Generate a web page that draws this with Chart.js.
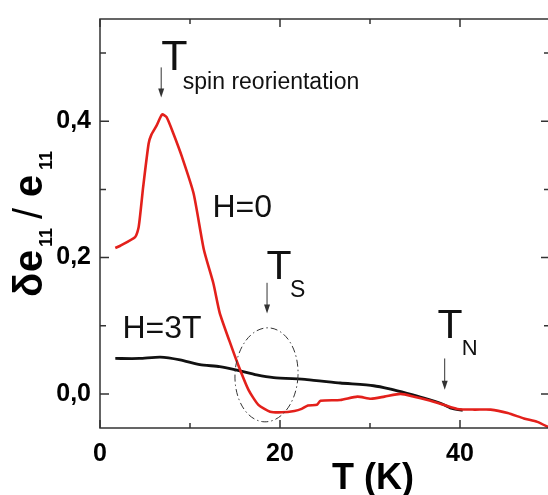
<!DOCTYPE html>
<html>
<head>
<meta charset="utf-8">
<script src="https://cdn.jsdelivr.net/npm/chart.js@4.4.1/dist/chart.umd.min.js"></script>
<style>
html, body { margin: 0; padding: 0; overflow: hidden; background: #fff; }
#wrap { width: 552px; height: 495px; }
</style>
</head>
<body>
<div id="wrap"><canvas id="myChart" width="552" height="495"></canvas></div>
<script>
// H=0 curve (red)
const redT = [1.7, 2.2, 3.9, 4.3, 4.8, 5.4, 5.7, 6.3, 6.9, 7.4, 8.15, 9.1, 10.4, 11.55, 12.6, 13.3, 14.4, 15.4, 16.5, 17.6, 18.9,
              20.2, 21.6, 22.4, 23.1, 24.1, 24.5, 26.7, 28.6, 30.1, 31.6, 33.4, 34.9, 36.4, 38.2, 39.7, 41.6, 43.4, 45.3, 47.1, 48.6, 50];
const redV = [0.214, 0.217, 0.230, 0.245, 0.304, 0.367, 0.380, 0.394, 0.410, 0.406, 0.382, 0.348, 0.294, 0.211, 0.162, 0.119, 0.077, 0.041, 0.006, -0.016, -0.026,
              -0.027, -0.025, -0.022, -0.017, -0.016, -0.010, -0.009, -0.004, -0.007, -0.004, 0.000, -0.004, -0.009, -0.016, -0.022, -0.023, -0.023, -0.028, -0.036, -0.041, -0.050];

// H=3T curve (black)
const blackT = [1.7, 4.4, 6.7, 8.9, 11.1, 13.3, 15.2, 17.4, 19.3, 23.0, 26.7, 30.4, 32.3, 34.1, 36.0, 37.9, 39.0, 40.3];
const blackV = [0.052, 0.052, 0.054, 0.050, 0.043, 0.040, 0.035, 0.028, 0.024, 0.021, 0.016, 0.012, 0.007, 0.001, -0.006, -0.014, -0.021, -0.024];

const xTicks = [0, 10, 20, 30, 40, 50];
const xLabels = ['0', '', '20', '', '40', ''];
const yTicks = [0, 0.1, 0.2, 0.3, 0.4, 0.5];
const yLabels = ['0,0', '', '0,2', '', '0,4', ''];

const FONT = '"Liberation Sans", Arial, sans-serif';

function drawArrow(ctx, x, y1, y2) {
    ctx.save();
    ctx.strokeStyle = '#333';
    ctx.fillStyle = '#333';
    ctx.lineWidth = 1;
    ctx.beginPath();
    ctx.moveTo(x, y1);
    ctx.lineTo(x, y2 - 8);
    ctx.stroke();
    ctx.beginPath();
    ctx.moveTo(x - 3, y2 - 9);
    ctx.lineTo(x + 3, y2 - 9);
    ctx.lineTo(x, y2);
    ctx.closePath();
    ctx.fill();
    ctx.restore();
}

function text(ctx, s, x, y, size, weight) {
    ctx.font = (weight || 'normal') + ' ' + size + 'px ' + FONT;
    ctx.fillText(s, x, y);
}

// no extra room for half-labels at the axis ends
function noPad(s) {
    s.paddingTop = 0;
    s.paddingBottom = 0;
    s.paddingLeft = 0;
    s.paddingRight = 0;
}

const framePlugin = {
    id: 'frame',
    afterDatasetsDraw(chart) {
        const ctx = chart.ctx;
        const a = chart.chartArea;
        const xs = chart.scales.x, ys = chart.scales.y;
        ctx.save();
        ctx.strokeStyle = '#333';
        ctx.lineWidth = 1.5;
        ctx.strokeRect(a.left, a.top, a.right - a.left, a.bottom - a.top);
        // inward ticks on all sides
        ctx.beginPath();
        xTicks.forEach((v, i) => {
            const px = xs.getPixelForValue(v);
            const len = xLabels[i] !== '' || v === 50 ? 8 : 5;
            ctx.moveTo(px, a.bottom); ctx.lineTo(px, a.bottom - len);
            ctx.moveTo(px, a.top); ctx.lineTo(px, a.top + len);
        });
        yTicks.forEach((v, i) => {
            const py = ys.getPixelForValue(v);
            const len = yLabels[i] !== '' ? 9 : 6;
            ctx.moveTo(a.left, py); ctx.lineTo(a.left + len, py);
            ctx.moveTo(a.right, py); ctx.lineTo(a.right - len, py);
        });
        ctx.stroke();

        // dash-dot ellipse round T_S
        const cx = xs.getPixelForValue(18.5), cy = ys.getPixelForValue(0.028);
        const rx = xs.getPixelForValue(22.0) - cx, ry = cy - ys.getPixelForValue(0.097);
        ctx.strokeStyle = '#333';
        ctx.lineWidth = 1;
        ctx.setLineDash([7, 3, 1.5, 3]);
        ctx.beginPath();
        ctx.ellipse(cx, cy, rx, ry, 0.05, 0, Math.PI * 2);
        ctx.stroke();
        ctx.setLineDash([]);

        // arrows
        drawArrow(ctx, xs.getPixelForValue(6.8), ys.getPixelForValue(0.479), ys.getPixelForValue(0.435));
        drawArrow(ctx, xs.getPixelForValue(18.56), ys.getPixelForValue(0.163), ys.getPixelForValue(0.118));
        drawArrow(ctx, xs.getPixelForValue(38.3), ys.getPixelForValue(0.052), ys.getPixelForValue(0.006));

        // annotation texts
        ctx.fillStyle = '#111';
        ctx.textAlign = 'left';
        ctx.textBaseline = 'alphabetic';
        text(ctx, 'T', xs.getPixelForValue(6.8), ys.getPixelForValue(0.475), 43);
        text(ctx, 'spin reorientation', xs.getPixelForValue(9.2), ys.getPixelForValue(0.448), 23);
        text(ctx, 'H=0', xs.getPixelForValue(12.5), ys.getPixelForValue(0.259), 32);
        text(ctx, 'H=3T', xs.getPixelForValue(2.5), ys.getPixelForValue(0.082), 32);
        text(ctx, 'T', xs.getPixelForValue(18.5), ys.getPixelForValue(0.168), 41);
        text(ctx, 'S', xs.getPixelForValue(21.1), ys.getPixelForValue(0.142), 23);
        text(ctx, 'T', xs.getPixelForValue(37.5), ys.getPixelForValue(0.082), 41);
        text(ctx, 'N', xs.getPixelForValue(40.2), ys.getPixelForValue(0.057), 22);

        // x axis title
        ctx.fillStyle = '#000';
        ctx.textAlign = 'center';
        text(ctx, 'T (K)', 373, 489, 36, 'bold');

        // y axis title, rotated, with subscripts
        ctx.translate(42, 297);
        ctx.rotate(-Math.PI / 2);
        ctx.textAlign = 'left';
        text(ctx, 'δ', 0, 0, 40, 'bold');
        text(ctx, 'e', 25, 0, 40, 'bold');
        text(ctx, '11', 50, 10, 18, 'bold');
        text(ctx, '/', 78, 0, 40, 'normal');
        text(ctx, 'e', 100, 0, 40, 'bold');
        text(ctx, '11', 127, 10, 18, 'bold');
        ctx.restore();
    }
};

const ctx = document.getElementById('myChart').getContext('2d');
new Chart(ctx, {
    type: 'line',
    data: {
        datasets: [
            {
                label: 'H=0',
                data: redT.map((t, i) => ({ x: t, y: redV[i] })),
                borderColor: '#e3201b',
                borderWidth: 2.6,
                pointRadius: 0,
                fill: false,
                tension: 0.2
            },
            {
                label: 'H=3T',
                data: blackT.map((t, i) => ({ x: t, y: blackV[i] })),
                borderColor: '#111',
                borderWidth: 2.8,
                pointRadius: 0,
                fill: false,
                tension: 0.2
            }
        ]
    },
    options: {
        responsive: false,
        animation: false,
        layout: { padding: { top: 19, right: 2, left: 0, bottom: 0 } },
        plugins: {
            legend: { display: false },
            tooltip: { enabled: false }
        },
        scales: {
            x: {
                type: 'linear',
                min: 0,
                max: 50,
                grid: { display: false, drawTicks: false },
                border: { display: false },
                afterBuildTicks: s => { s.ticks = xTicks.map(v => ({ value: v })); },
                afterFit: s => { s.height = 495 - 428; noPad(s); },
                ticks: {
                    padding: 11,
                    color: '#000',
                    font: { family: FONT, size: 25, weight: 'bold' },
                    maxRotation: 0,
                    autoSkip: false,
                    callback: (v, i) => xLabels[i]
                }
            },
            y: {
                type: 'linear',
                min: -0.05,
                max: 0.55,
                grid: { display: false, drawTicks: false },
                border: { display: false },
                afterBuildTicks: s => { s.ticks = yTicks.map(v => ({ value: v })); },
                afterFit: s => { s.width = 100; noPad(s); },
                ticks: {
                    padding: 9,
                    color: '#000',
                    font: { family: FONT, size: 25, weight: 'bold' },
                    autoSkip: false,
                    callback: (v, i) => yLabels[i]
                }
            }
        }
    },
    plugins: [framePlugin]
});
</script>
</body>
</html>
